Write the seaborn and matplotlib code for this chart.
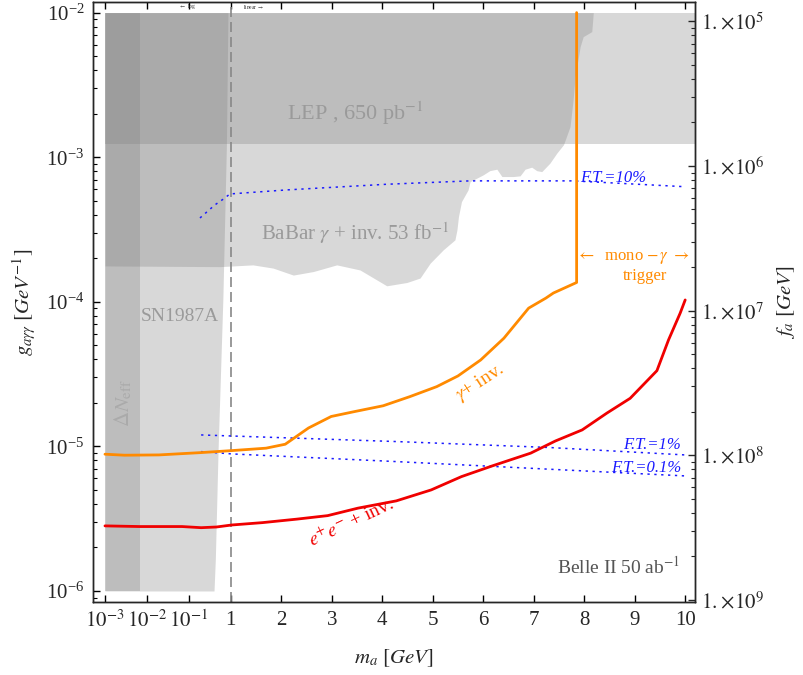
import numpy as np
import matplotlib
matplotlib.use("Agg")
import matplotlib.pyplot as plt
import matplotlib.ticker as mticker
import seaborn as sns

# ---- data ----
# gamma + invisible (orange), last point closes the mono-photon trigger edge
gam_m = [1e-3, 2.92e-3, 0.0194, 0.197, 1.02, 1.70, 2.08, 2.54, 2.99, 3.45, 4.02, 4.55,
         5.08, 5.50, 5.95, 6.41, 6.90, 7.24, 7.39, 7.85, 7.85]
gam_g = [8.83e-6, 8.69e-6, 8.73e-6, 9.06e-6, 9.35e-6, 9.72e-6, 1.035e-5, 1.34e-5, 1.61e-5,
         1.74e-5, 1.91e-5, 2.21e-5, 2.59e-5, 3.07e-5, 3.96e-5, 5.60e-5, 9.04e-5, 1.06e-4,
         1.15e-4, 1.36e-4, 1e-2]

# e+e- + invisible (red)
ee_m = [1e-3, 6.77e-3, 0.0689, 0.197, 0.456, 1.02, 1.63, 2.31, 2.92, 3.52, 4.28, 4.97,
        5.57, 6.18, 6.94, 7.43, 7.96, 8.45, 8.91, 9.44, 9.67, 9.90, 10.0]
ee_g = [2.82e-6, 2.79e-6, 2.79e-6, 2.74e-6, 2.77e-6, 2.86e-6, 2.97e-6, 3.14e-6, 3.32e-6,
        3.74e-6, 4.20e-6, 5.00e-6, 6.18e-6, 7.33e-6, 8.98e-6, 1.09e-5, 1.30e-5, 1.70e-5,
        2.15e-5, 3.34e-5, 5.45e-5, 8.34e-5, 1.03e-4]

# fine tuning contours
ft10_m = [0.185, 0.42, 0.665, 0.96, 2.11, 4.09, 5.74, 7.78, 9.96]
ft10_g = [3.8e-4, 4.68e-4, 5.13e-4, 5.57e-4, 5.94e-4, 6.50e-4, 6.86e-4, 6.86e-4, 6.26e-4]
ft1_m = [0.197, 1.02, 4.28, 7.32, 9.99]
ft1_g = [1.20e-5, 1.18e-5, 1.08e-5, 9.82e-6, 8.73e-6]
ft01_m = [0.197, 1.02, 4.28, 7.32, 9.99]
ft01_g = [9.20e-6, 8.87e-6, 7.85e-6, 6.95e-6, 6.25e-6]

# BaBar lower edge (region goes up to 1e-2)
babar_m = [1e-3, 0.556, 1.44, 1.84, 2.24, 2.64, 3.10, 3.56, 4.09, 4.49, 4.75, 4.95, 5.21,
           5.44, 5.48, 5.51, 5.57, 5.70, 5.74, 6.00, 6.13, 6.27, 6.37, 6.60, 6.73, 6.83,
           6.96, 7.06, 7.16, 7.32, 7.46, 7.59, 7.72, 7.78, 7.82, 7.92, 7.98, 8.15, 8.18]
babar_g = [1.77e-4, 1.75e-4, 1.80e-4, 1.71e-4, 1.53e-4, 1.62e-4, 1.80e-4, 1.66e-4, 1.29e-4,
           1.36e-4, 1.46e-4, 1.85e-4, 2.29e-4, 2.68e-4, 3.14e-4, 3.88e-4, 4.93e-4, 5.94e-4,
           6.78e-4, 7.55e-4, 8.07e-4, 8.26e-4, 7.35e-4, 7.35e-4, 7.43e-4, 8.26e-4, 8.53e-4,
           8.07e-4, 7.95e-4, 9.09e-4, 1.07e-3, 1.22e-3, 1.63e-3, 2.49e-3, 3.61e-3, 5.82e-3,
           6.82e-3, 7.39e-3, 1e-2]

# LEP band
lep_m = [1e-3, 11.0]
lep_lo = [1.24e-3, 1.24e-3]

# SN1987A right edge
sn_g = [1e-6, 1.66e-6, 9.46e-6, 1.04e-4, 1.22e-3, 1e-2]
sn_m = [0.40, 0.43, 0.50, 0.65, 0.79, 0.86]

# Delta N_eff strip
neff_m = [1e-3, 6.84e-3]

# f_a = C / g on the right axis
C_fa = 870.0
fa_major = [1e5, 1e6, 1e7, 1e8, 1e9]

m_ticks = [1e-3, 1e-2, 1e-1, 1, 2, 3, 4, 5, 6, 7, 8, 9, 10]
m_labels = [r'$10^{-3}$', r'$10^{-2}$', r'$10^{-1}$', '1', '2', '3', '4', '5', '6', '7',
            '8', '9', '10']

# ---- style ----
sns.set_theme(style="ticks")
plt.rcParams['font.family'] = ['Liberation Serif', 'DejaVu Serif']
plt.rcParams['mathtext.fontset'] = 'stix'
plt.rcParams['axes.linewidth'] = 1.0

R = 0.83  # width of a decade relative to one GeV


def fwd(x):
    x = np.asarray(x, float)
    with np.errstate(divide='ignore', invalid='ignore'):
        return np.where(x >= 1, x - 1, R * np.log10(np.where(x > 0, x, 1e-300)))


def inv(u):
    u = np.asarray(u, float)
    return np.where(u >= 0, u + 1, 10 ** (np.minimum(u, 0) / R))


fig = plt.figure(figsize=(8.04, 6.75), dpi=100)
ax = fig.add_axes([0.1153, 0.1077, 0.7495, 0.8898])
ax.set_xscale('function', functions=(fwd, inv))
ax.set_yscale('log')

shade = dict(color='#808080', alpha=0.3, lw=0)
ax.fill_between(lep_m, lep_lo, 1e-2, **shade)
ax.fill_between(babar_m, babar_g, 1e-2, **shade)
ax.fill_betweenx(sn_g, 1e-3, sn_m, **shade)
ax.fill_between(neff_m, 1e-6, 1e-2, **shade)

ax.axvline(1, color='#888888', lw=1.2, dashes=(6, 3))

blue = '#1a1aff'
for mm, gg in [(ft10_m, ft10_g), (ft1_m, ft1_g), (ft01_m, ft01_g)]:
    ax.plot(mm, gg, color=blue, lw=1.1, dashes=(1.5, 3))

sns.lineplot(x=gam_m, y=gam_g, ax=ax, sort=False, estimator=None, color='#ff8a00', lw=2.0)
sns.lineplot(x=ee_m, y=ee_g, ax=ax, sort=False, estimator=None, color='#f00000', lw=2.0)

txt_grey = '#9a9a9a'
ax.text(3.46, 2.0e-3, r'LEP , 650 pb$^{-1}$', color=txt_grey, fontsize=16, ha='center', va='center')
ax.text(3.46, 2.68e-4, r'BaBar $\gamma$ + inv. 53 fb$^{-1}$', color=txt_grey, fontsize=15,
        ha='center', va='baseline')
ax.text(0.0616, 7.41e-5, 'SN1987A', color=txt_grey, fontsize=14, ha='center', va='baseline')
ax.text(2.69e-3, 2.0e-5, r'$\Delta N_{\rm eff}$', color='#aaaaaa', fontsize=15, rotation=90,
        ha='center', va='center')
ax.text(5.94, 2.75e-5, r'$\gamma$+ inv.', color='#ff8a00', fontsize=14, rotation=33,
        ha='center', va='center')
ax.text(3.39, 2.98e-6, r'$e^{+}e^{-}$ + inv.', color='#f00000', fontsize=14, rotation=25,
        ha='center', va='center')
ax.text(8.96, 2.01e-4, r'$\leftarrow$  mono $-\,\gamma$ $\rightarrow$', color='#ff8a00',
        fontsize=12, ha='center', va='center')
ax.text(9.2, 1.51e-4, 'trigger', color='#ff8a00', fontsize=12, ha='center', va='center')
ax.text(8.58, 7.2e-4, 'F.T.=10%', color=blue, fontsize=12, style='italic', ha='center', va='center')
ax.text(9.34, 1.02e-5, 'F.T.=1%', color=blue, fontsize=12, style='italic', ha='center', va='center')
ax.text(9.22, 7.1e-6, 'F.T.=0.1%', color=blue, fontsize=12, style='italic', ha='center', va='center')
ax.text(9.9, 1.47e-6, r'Belle II 50 ab$^{-1}$', color='#555555', fontsize=14, ha='right',
        va='center')
ax.text(0.149, 1.1e-2, r'$\leftarrow$ log', fontsize=4, ha='right', va='center', color='#333333')
ax.text(1.24, 1.1e-2, r'linear $\rightarrow$', fontsize=4, ha='left', va='center', color='#333333')

ax.set_xlim(5.1e-4, 10.2)
ax.set_ylim(8.35e-7, 1.19e-2)
ax.xaxis.set_major_locator(mticker.FixedLocator(m_ticks))
ax.xaxis.set_major_formatter(mticker.FixedFormatter(m_labels))
ax.xaxis.set_minor_locator(mticker.NullLocator())
ax.yaxis.set_major_locator(mticker.LogLocator(base=10, numticks=10))
ax.yaxis.set_minor_locator(mticker.LogLocator(base=10, subs=np.arange(2, 10), numticks=20))
ax.yaxis.set_minor_formatter(mticker.NullFormatter())
ax.tick_params(which='both', direction='in', top=True, right=False, color='black',
               labelsize=15, pad=6)
ax.tick_params(which='major', length=5, width=1)
ax.tick_params(which='minor', length=3, width=0.8)
for s in ax.spines.values():
    s.set_color('black')

ax.set_xlabel(r'$m_a\ [GeV]$', fontsize=15, labelpad=11)
ax.set_ylabel(r'$g_{a\gamma\gamma}\ [GeV^{-1}]$', fontsize=15, labelpad=6)

ax2 = ax.twinx()
ax2.set_yscale('log')
ax2.set_ylim(ax.get_ylim())
ax2.yaxis.set_major_locator(mticker.FixedLocator([C_fa / f for f in fa_major]))
ax2.yaxis.set_major_formatter(mticker.FixedFormatter(
    [r'$1.\!\times\!10^{%d}$' % int(np.log10(f)) for f in fa_major]))
minor = [C_fa * k / (10 * f) for f in fa_major for k in range(2, 10)]
ax2.yaxis.set_minor_locator(mticker.FixedLocator(minor))
ax2.yaxis.set_minor_formatter(mticker.NullFormatter())
ax2.tick_params(which='both', direction='in', labelsize=15, pad=4)
ax2.tick_params(which='major', length=5, width=1)
ax2.tick_params(which='minor', length=3, width=0.8)
ax2.set_ylabel(r'$f_a\ [GeV]$', fontsize=15, labelpad=8)
ax2.grid(False)
ax.grid(False)

fig.savefig('out.png', dpi=100)
